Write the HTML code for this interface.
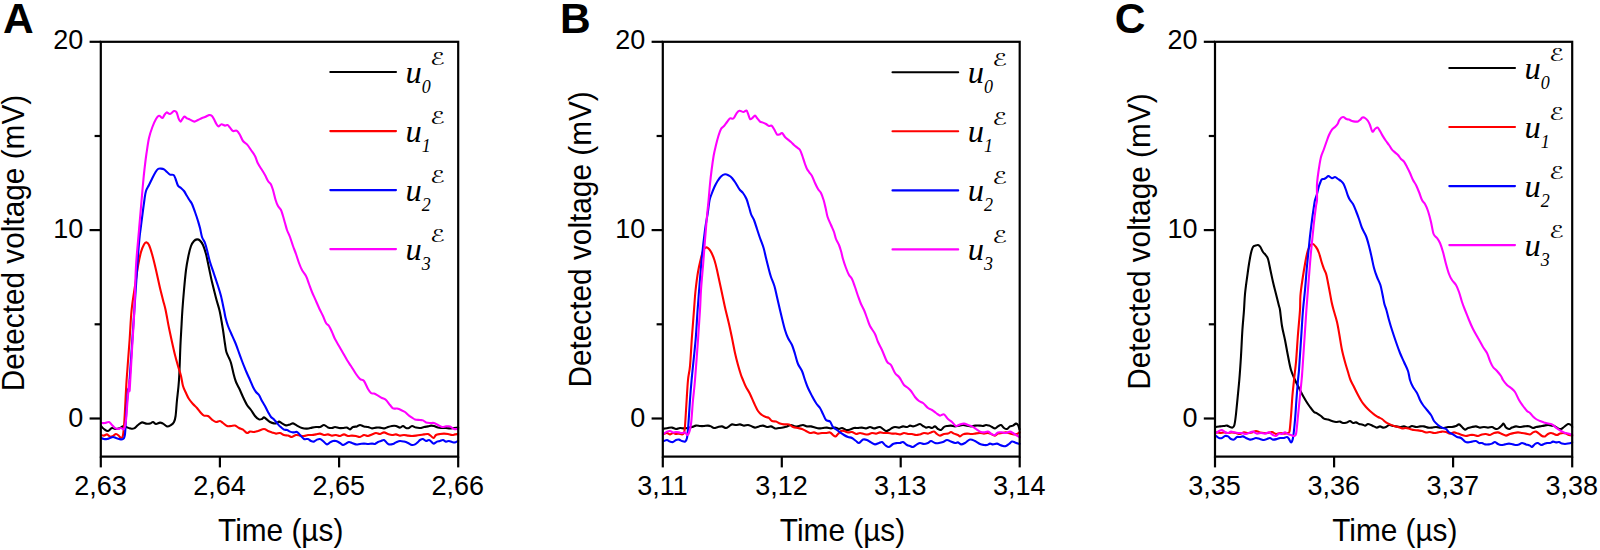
<!DOCTYPE html>
<html lang="en">
<head>
<meta charset="utf-8">
<title>Detected voltage vs time</title>
<style>
html,body{margin:0;padding:0;background:#fff;}
body{width:1600px;height:550px;overflow:hidden;}
svg{display:block;}
text{font-family:"Liberation Sans",sans-serif;fill:#000;}
.tick{font-size:27px;}
.title{font-size:29.8px;}
.letter{font-size:42.5px;font-weight:bold;}
.leg{font-family:"Liberation Serif",serif;font-style:italic;font-size:32.5px;}
.sub{font-family:"Liberation Serif",serif;font-style:italic;font-size:18px;}
.sup{font-family:"DejaVu Sans",sans-serif;font-style:italic;font-size:17.5px;}
.ax{stroke:#000;stroke-width:2.2;fill:none;stroke-linecap:butt;}
.cv{fill:none;stroke-width:2.1;stroke-linejoin:round;stroke-linecap:round;}
</style>
</head>
<body>
<svg width="1600" height="550" viewBox="0 0 1600 550">
<rect x="0" y="0" width="1600" height="550" fill="#ffffff"/>
<g id="panel-A">
<clipPath id="clipA"><rect x="100.8" y="41.8" width="358.6" height="414.8"/></clipPath>
<g clip-path="url(#clipA)">
<path class="cv" stroke="#000000" d="M100.8,426C100.8,426 100.5,425.5 101,426C101.5,426.5 102.8,428.2 104,429C105.2,429.8 106.7,431.2 108,431C109.3,430.8 110.7,428.3 112,428C113.3,427.7 114.7,429 116,429C117.3,429 118.8,428.4 120,428C121.2,427.6 122,426.6 123,426.4C124,426.2 124.8,426.7 126,427C127.2,427.3 128.7,428.2 130,428.4C131.3,428.6 132.7,429 134,428.4C135.3,427.8 136.7,426 138,425C139.3,424 140.7,422.6 142,422.4C143.3,422.2 144.7,423.4 146,423.6C147.3,423.8 148.8,423.9 150,423.6C151.2,423.3 152,421.9 153,422C154,422.1 154.8,423.9 156,424C157.2,424.1 158.8,422.7 160,422.6C161.2,422.5 161.8,423 163,423.6C164.2,424.2 165.7,426.2 167,426.4C168.3,426.6 169.8,425.7 171,425C172.2,424.3 173.2,423.5 174,422C174.8,420.5 175.1,419.7 175.6,416C176.1,412.3 176.4,406 177,400C177.6,394 178.4,389 179,380C179.6,371 180,355.3 180.4,346C180.8,336.7 181.3,330 181.6,324C181.9,318 182,315.7 182.4,310C182.8,304.3 183.4,296.7 184,290C184.6,283.3 185.3,275.7 186,270C186.7,264.3 187.6,260 188.4,256C189.2,252 190.1,248.5 191,246C191.9,243.5 193,242.1 194,241C195,239.9 196,239.5 197,239.4C198,239.3 199,239.7 200,240.6C201,241.5 202,242.8 203,245C204,247.2 205,250.2 206,254C207,257.8 208,263.3 209,268C210,272.7 210.8,277 212,282C213.2,287 214.8,293.3 216,298C217.2,302.7 218.6,306.7 219.4,310C220.2,313.3 220.4,314.7 221,318C221.6,321.3 222.3,325.7 223,330C223.7,334.3 224.4,340.3 225,344C225.6,347.7 225.7,349.7 226.4,352C227.1,354.3 228.2,356.2 229,358C229.8,359.8 230.2,360.3 231,363C231.8,365.7 232.8,370.8 233.6,374C234.4,377.2 235.1,379.7 236,382C236.9,384.3 237.8,385.5 239,388C240.2,390.5 241.7,394.2 243,397C244.3,399.8 245.7,402.8 247,405C248.3,407.2 249.7,408.2 251,410C252.3,411.8 253.7,414.4 255,416C256.3,417.6 257.8,418.9 259,419.4C260.2,419.9 261.2,419.3 262,419C262.8,418.7 263.2,417.3 264,417.4C264.8,417.5 266,418.8 267,419.6C268,420.4 268.8,421.4 270,422C271.2,422.6 272.8,423.2 274,423.4C275.2,423.6 276.2,423.3 277,423C277.8,422.7 278.2,421.5 279,421.6C279.8,421.7 280.8,422.8 282,423.4C283.2,424 284.7,425.2 286,425.4C287.3,425.6 288.8,424.7 290,424.4C291.2,424.1 291.8,423.2 293,423.4C294.2,423.6 295.5,424.8 297,425.6C298.5,426.4 300.3,427.5 302,428C303.7,428.5 305.3,428.7 307,428.6C308.7,428.5 310.5,427.9 312,427.6C313.5,427.3 314.7,427.1 316,427C317.3,426.9 318.7,427.3 320,427C321.3,426.7 322.7,424.9 324,425C325.3,425.1 326.7,426.9 328,427.4C329.3,427.9 330.8,428.1 332,428C333.2,427.9 333.8,427 335,427C336.2,427 337.7,427.8 339,428C340.3,428.2 341.7,428.1 343,428C344.3,427.9 345.8,427.4 347,427.6C348.2,427.8 349,429.5 350,429.4C351,429.3 351.8,427.5 353,427C354.2,426.5 355.8,426.7 357,426.4C358.2,426.1 358.8,425 360,425C361.2,425 362.7,426.1 364,426.4C365.3,426.7 366.7,426.7 368,427C369.3,427.3 370.7,428.3 372,428.4C373.3,428.5 374.7,427.7 376,427.6C377.3,427.5 378.7,427.5 380,427.6C381.3,427.7 382.7,428.5 384,428.4C385.3,428.3 386.7,427.4 388,427C389.3,426.6 390.7,426.2 392,426C393.3,425.8 394.7,425.7 396,426C397.3,426.3 398.8,427.6 400,427.6C401.2,427.6 402,425.9 403,426C404,426.1 405,427.7 406,428C407,428.3 408,428.3 409,428C410,427.7 410.8,426.1 412,426C413.2,425.9 414.7,427.3 416,427.6C417.3,427.9 418.7,428.1 420,428C421.3,427.9 422.7,427.3 424,427C425.3,426.7 426.8,426.6 428,426.4C429.2,426.2 430,425.7 431,425.6C432,425.5 432.8,425.7 434,426C435.2,426.3 436.7,427.3 438,427.6C439.3,427.9 440.7,427.9 442,428C443.3,428.1 444.7,427.9 446,428C447.3,428.1 448.7,428.4 450,428.4C451.3,428.4 452.7,428.1 454,428C455.3,427.9 457.3,427.7 458,427.6C458.7,427.5 458.2,427.6 458.2,427.6"/>
<path class="cv" stroke="#ff0000" d="M100.8,435C100.8,435 100.5,434.9 101,435C101.5,435.1 103,435.7 104,435.6C105,435.5 106,434.2 107,434.4C108,434.6 109,436.3 110,436.6C111,436.9 112,436.4 113,436C114,435.6 115,434 116,434C117,434 118.2,435.3 119,436C119.8,436.7 120.4,438 121,438C121.6,438 122.3,438 122.8,436C123.3,434 123.6,431 124,426C124.4,421 124.8,413.7 125.2,406C125.6,398.3 125.9,391 126.6,380C127.3,369 128.8,351.7 129.6,340C130.4,328.3 130.7,319 131.6,310C132.5,301 133.9,293.3 135,286C136.1,278.7 137,271.7 138,266C139,260.3 140,255.6 141,252C142,248.4 143.1,246 144,244.4C144.9,242.8 145.6,242.3 146.4,242.4C147.2,242.5 148.1,243.1 149,245C149.9,246.9 150.8,249.8 152,254C153.2,258.2 154.7,264.3 156,270C157.3,275.7 158.8,283 160,288C161.2,293 162.1,296.3 163,300C163.9,303.7 164.6,305.3 165.6,310C166.6,314.7 167.9,322.7 169,328C170.1,333.3 171,337.5 172,342C173,346.5 174,351 175,355C176,359 177,362.5 178,366C179,369.5 180.2,372.7 181,376C181.8,379.3 182.2,383.2 183,386C183.8,388.8 185,390.8 186,393C187,395.2 187.8,397.2 189,399C190.2,400.8 191.7,402.5 193,404C194.3,405.5 195.7,406.5 197,408C198.3,409.5 199.8,411.7 201,413C202.2,414.3 202.8,415.1 204,415.6C205.2,416.1 206.7,415.3 208,416C209.3,416.7 210.7,418.6 212,419.6C213.3,420.6 214.7,421.8 216,422C217.3,422.2 218.8,420.8 220,421C221.2,421.2 221.8,422.2 223,423C224.2,423.8 225.7,425.5 227,426C228.3,426.5 229.7,426.1 231,426C232.3,425.9 233.7,425.3 235,425.6C236.3,425.9 237.7,427.3 239,428C240.3,428.7 241.7,428.8 243,429.6C244.3,430.4 245.8,432.7 247,433C248.2,433.3 248.8,431.8 250,431.6C251.2,431.4 252.7,432.1 254,432C255.3,431.9 256.3,431.5 258,431C259.7,430.5 262.3,429 264,429C265.7,429 266.7,430.4 268,431C269.3,431.6 270.7,432 272,432.4C273.3,432.8 274.7,433.5 276,433.6C277.3,433.7 278.7,432.8 280,433C281.3,433.2 282.7,434.6 284,435C285.3,435.4 286.7,435.3 288,435.6C289.3,435.9 290.7,437.1 292,437C293.3,436.9 294.7,435.2 296,435C297.3,434.8 298.7,435.4 300,435.6C301.3,435.8 302.7,436.1 304,436C305.3,435.9 306.7,435.2 308,435C309.3,434.8 310.7,435.1 312,435C313.3,434.9 314.7,434.6 316,434.4C317.3,434.2 318.7,433.5 320,433.6C321.3,433.7 322.7,434.9 324,435C325.3,435.1 326.7,434.3 328,434.4C329.3,434.5 330.7,435.5 332,435.6C333.3,435.7 334.7,434.9 336,435C337.3,435.1 338.7,436.1 340,436C341.3,435.9 342.7,434.4 344,434.4C345.3,434.4 346.7,435.8 348,436C349.3,436.2 350.7,435.6 352,435.6C353.3,435.6 354.7,435.8 356,436C357.3,436.2 358.7,437.2 360,437C361.3,436.8 362.7,435.2 364,435C365.3,434.8 366.7,436.1 368,436C369.3,435.9 370.7,434.9 372,434.4C373.3,433.9 374.7,433.1 376,433C377.3,432.9 378.7,434.1 380,434C381.3,433.9 382.7,432.4 384,432.4C385.3,432.4 386.7,433.6 388,434C389.3,434.4 390.7,434.9 392,435C393.3,435.1 394.7,434.3 396,434.4C397.3,434.5 398.7,435.5 400,435.6C401.3,435.7 402.7,435 404,435C405.3,435 406.7,435.4 408,435.6C409.3,435.8 410.7,436 412,436C413.3,436 414.7,435.8 416,435.6C417.3,435.4 418.7,435.2 420,435C421.3,434.8 422.7,434.6 424,434.4C425.3,434.2 426.8,433.7 428,434C429.2,434.3 430.1,435.3 431,436C431.9,436.7 432.8,438.2 433.6,438C434.4,437.8 434.9,435.7 436,435C437.1,434.3 438.7,434.2 440,434C441.3,433.8 442.7,433.6 444,433.6C445.3,433.6 446.7,433.8 448,434C449.3,434.2 450.8,434.9 452,435C453.2,435.1 454,434.6 455,434.4C456,434.2 457.5,434.1 458,434C458.5,433.9 458.2,434 458.2,434"/>
<path class="cv" stroke="#0000ff" d="M100.8,438C100.8,438 100.5,437.8 101,438C101.5,438.2 103,438.8 104,439C105,439.2 106,439.2 107,439C108,438.8 109,438.3 110,438C111,437.7 112,437 113,437C114,437 115,437.7 116,438C117,438.3 117.8,438.8 119,439C120.2,439.2 122,439.8 123,439C124,438.2 124.4,438.8 125,434C125.6,429.2 125.9,417.3 126.4,410C126.9,402.7 127.5,395 128,390C128.5,385 127.9,402.3 129.6,380C131.3,357.7 136.1,281.7 138,256C139.9,230.3 139.9,235.3 141,226C142.1,216.7 143.6,205.8 144.4,200C145.2,194.2 145.2,193.5 146,191C146.8,188.5 147.9,187.2 149,185C150.1,182.8 151.3,180.2 152.4,178C153.5,175.8 154.7,173.5 155.6,172C156.5,170.5 157.1,169.6 158,169C158.9,168.4 160,168.5 161,168.6C162,168.7 163,168.8 164,169.4C165,170 166,171.1 167,172C168,172.9 168.9,174.1 170,174.6C171.1,175.1 172.7,174.3 173.6,175C174.5,175.7 174.9,177.2 175.6,179C176.3,180.8 177.1,184.1 178,185.6C178.9,187.1 180,187.1 181,188C182,188.9 183,189.7 184,191C185,192.3 186.1,194.5 187,196C187.9,197.5 188.6,198.7 189.4,200C190.2,201.3 191.1,202 192,204C192.9,206 194,209.2 195,212C196,214.8 197.2,218.3 198,221C198.8,223.7 199.3,225.3 200,228C200.7,230.7 201.2,234.5 202,237C202.8,239.5 204.2,240.8 205,243C205.8,245.2 206.2,246.8 207,250C207.8,253.2 208.8,258 210,262C211.2,266 212.7,270 214,274C215.3,278 216.8,282.3 218,286C219.2,289.7 220,292 221,296C222,300 223.2,306.3 224,310C224.8,313.7 224.9,315.3 225.6,318C226.3,320.7 227.1,323.5 228,326C228.9,328.5 229.8,330.3 231,333C232.2,335.7 233.8,339.2 235,342C236.2,344.8 236.8,346.8 238,350C239.2,353.2 240.7,357.5 242,361C243.3,364.5 244.7,367.8 246,371C247.3,374.2 248.8,377.3 250,380C251.2,382.7 252,385 253,387C254,389 255,390.7 256,392C257,393.3 258,393.5 259,395C260,396.5 261,399.2 262,401C263,402.8 264,404.2 265,406C266,407.8 267,410.2 268,412C269,413.8 270,415.8 271,417C272,418.2 273,418.4 274,419.4C275,420.4 276,421.8 277,423C278,424.2 278.8,425.3 280,426.4C281.2,427.5 282.8,429 284,429.6C285.2,430.2 286,429.7 287,430C288,430.3 289,431.2 290,431.6C291,432 291.8,432.3 293,432.4C294.2,432.5 295.8,431.6 297,432C298.2,432.4 298.8,433.8 300,435C301.2,436.2 302.7,438.3 304,439C305.3,439.7 306.8,438.7 308,439C309.2,439.3 310,440.6 311,441C312,441.4 313,441.8 314,441.6C315,441.4 316,440 317,439.6C318,439.2 319,438.8 320,439C321,439.2 321.8,440.1 323,441C324.2,441.9 325.8,444.2 327,444.4C328.2,444.6 329,443 330,442.4C331,441.8 332,441.2 333,441C334,440.8 334.8,440.7 336,441C337.2,441.3 338.8,442.3 340,443C341.2,443.7 342,444.9 343,445C344,445.1 345,444.1 346,443.6C347,443.1 348,442.1 349,442C350,441.9 350.8,442.6 352,443C353.2,443.4 354.7,444.2 356,444.4C357.3,444.6 358.7,444.1 360,444C361.3,443.9 362.7,443.6 364,443.6C365.3,443.6 366.7,444 368,444C369.3,444 370.8,443.6 372,443.6C373.2,443.6 374,444.3 375,444C376,443.7 377,442.5 378,442C379,441.5 380,441.3 381,441C382,440.7 383,439.7 384,440C385,440.3 386.2,442.3 387,443C387.8,443.7 388,444.2 389,444.4C390,444.6 391.8,444.3 393,444C394.2,443.7 394.8,442.9 396,442.4C397.2,441.9 398.7,441.1 400,441C401.3,440.9 402.7,441.3 404,441.6C405.3,441.9 406.7,442.4 408,443C409.3,443.6 410.8,444.8 412,445C413.2,445.2 414,444.9 415,444.4C416,443.9 417.2,442.7 418,442C418.8,441.3 419.2,440.5 420,440C420.8,439.5 422,438.8 423,439C424,439.2 425,440.8 426,441C427,441.2 428,439.8 429,440C430,440.2 431.2,441.8 432,442.4C432.8,443 433.2,443.7 434,443.6C434.8,443.5 436,442 437,441.6C438,441.2 439,441.3 440,441C441,440.7 442,439.9 443,440C444,440.1 445,441.4 446,441.6C447,441.8 448,440.9 449,441C450,441.1 451,441.8 452,442C453,442.2 454,442.6 455,442.4C456,442.2 457.5,441.2 458,441C458.5,440.8 458.2,441 458.2,441"/>
<path class="cv" stroke="#ff00ff" d="M100.8,423C100.8,423 100.3,423 101,423C101.7,423 103.7,423.2 105,423C106.3,422.8 107.8,421.7 109,422C110.2,422.3 111,424 112,425C113,426 114,427.3 115,428C116,428.7 117,429 118,429C119,429 120,428 121,428C122,428 123.2,430.3 124,429C124.8,427.7 125.4,424.8 126,420C126.6,415.2 127,406.7 127.6,400C128.2,393.3 129.3,381.7 129.6,380C129.9,378.3 129.2,395 129.7,390C130.1,385 131.2,363.3 132,350C132.8,336.7 133.7,324 134.4,310C135.1,296 135.2,279.3 136,266C136.8,252.7 138.1,241 139,230C139.9,219 140.9,207.7 141.6,200C142.3,192.3 142.5,189 143,184C143.5,179 143.8,175 144.4,170C145,165 145.6,159.3 146.4,154C147.2,148.7 148,142.5 149,138C150,133.5 151.2,130.2 152.4,127C153.6,123.8 154.9,120.9 156,119C157.1,117.1 157.9,116 159,115.8C160.1,115.6 161.5,118.1 162.4,118C163.3,117.9 163.7,115.9 164.4,115C165.1,114.1 165.7,112.6 166.6,112.4C167.5,112.2 168.8,114.2 170,114C171.2,113.8 172.9,111.4 174,111.1C175.1,110.8 175.9,111.2 176.6,112.4C177.3,113.6 177.8,116.5 178.4,118C179,119.5 179.7,121.4 180.4,121.6C181.1,121.8 181.7,119.8 182.4,119C183.1,118.2 183.6,116.7 184.4,116.6C185.2,116.5 186.1,117.9 187,118.4C187.9,118.9 188.8,119.1 190,119.6C191.2,120.1 193.1,121.5 194.4,121.6C195.7,121.7 196.7,120.6 198,120C199.3,119.4 200.8,118.5 202,118C203.2,117.5 203.8,117.5 205,117C206.2,116.5 207.8,115.3 209,115.1C210.2,114.9 211.1,115.2 212,116C212.9,116.8 213.7,118.7 214.4,120C215.1,121.3 215.7,122.9 216.4,124C217.1,125.1 217.6,126.4 218.4,126.4C219.2,126.5 220.4,124.4 221.5,124.3C222.6,124.2 224,125.5 225,125.6C226,125.7 226.8,124.7 227.6,125C228.4,125.3 229.1,126.6 230,127.6C230.9,128.6 231.8,130.5 233,131C234.2,131.5 235.8,130.1 237,130.8C238.2,131.5 239,133.3 240,135C241,136.7 241.8,139.4 243,141C244.2,142.6 245.7,142.9 247,144.4C248.3,145.9 249.7,148.1 251,150C252.3,151.9 253.8,153.7 255,156C256.2,158.3 256.8,161.3 258,163.6C259.2,165.9 260.8,168.1 262,170C263.2,171.9 264,173.2 265,175C266,176.8 267,179.4 268,181C269,182.6 270.2,182.9 271,184.4C271.8,185.9 272.2,187.4 273,190C273.8,192.6 274.8,197.3 275.6,200C276.4,202.7 277.1,204.3 278,206C278.9,207.7 280.2,208.3 281,210C281.8,211.7 282.3,213.8 283,216C283.7,218.2 284.3,220.7 285,223C285.7,225.3 286.2,227.7 287,230C287.8,232.3 289,234.3 290,237C291,239.7 292,243.2 293,246C294,248.8 295,251.2 296,254C297,256.8 298,260.3 299,263C300,265.7 300.8,267.8 302,270C303.2,272.2 304.8,273.7 306,276C307.2,278.3 308,281.3 309,284C310,286.7 310.8,289.2 312,292C313.2,294.8 314.7,298 316,301C317.3,304 318.8,307.5 320,310C321.2,312.5 322,313.8 323,316C324,318.2 325,321.3 326,323C327,324.7 328,324.5 329,326C330,327.5 331,329.8 332,332C333,334.2 333.8,336.7 335,339C336.2,341.3 337.7,343.7 339,346C340.3,348.3 341.7,350.7 343,353C344.3,355.3 345.7,357.8 347,360C348.3,362.2 349.5,363.7 351,366C352.5,368.3 354.5,371.8 356,374C357.5,376.2 358.7,377.8 360,379C361.3,380.2 362.7,379.3 364,381C365.3,382.7 366.8,387 368,389C369.2,391 370,392.2 371,393C372,393.8 372.8,393.2 374,393.6C375.2,394 376.7,394.9 378,395.6C379.3,396.3 380.7,397.3 382,398C383.3,398.7 384.7,398.8 386,400C387.3,401.2 388.8,403.6 390,405C391.2,406.4 391.8,407.8 393,408.4C394.2,409 395.7,408.3 397,408.6C398.3,408.9 399.7,409.4 401,410C402.3,410.6 403.7,411.1 405,412C406.3,412.9 407.8,414.7 409,415.6C410.2,416.5 411,417 412,417.6C413,418.2 413.7,419 415,419.4C416.3,419.8 418.7,419.8 420,420C421.3,420.2 422,420 423,420.4C424,420.8 424.8,422 426,422.4C427.2,422.8 428.7,422.9 430,423C431.3,423.1 432.7,422.7 434,423C435.3,423.3 436.7,424.3 438,425C439.3,425.7 440.7,426.8 442,427C443.3,427.2 444.7,426.5 446,426.4C447.3,426.3 448.7,426 450,426.4C451.3,426.8 452.7,428.6 454,429C455.3,429.4 457.3,429 458,429C458.7,429 458.2,429 458.2,429"/>
</g>
<rect class="ax" x="100.8" y="41.8" width="357.4" height="414.8"/>
<line class="ax" x1="89.6" y1="41.8" x2="100.8" y2="41.8"/>
<text class="tick" text-anchor="end" transform="translate(83.2,49.4) scale(1,1.04)">20</text>
<line class="ax" x1="89.6" y1="230.1" x2="100.8" y2="230.1"/>
<text class="tick" text-anchor="end" transform="translate(83.2,238.3) scale(1,1.04)">10</text>
<line class="ax" x1="89.6" y1="418.5" x2="100.8" y2="418.5"/>
<text class="tick" text-anchor="end" transform="translate(83.2,427) scale(1,1.04)">0</text>
<line class="ax" x1="94.6" y1="136" x2="100.8" y2="136"/>
<line class="ax" x1="94.6" y1="324.3" x2="100.8" y2="324.3"/>
<line class="ax" x1="100.8" y1="456.6" x2="100.8" y2="467.4"/>
<text class="tick" text-anchor="middle" transform="translate(100.4,495.2) scale(1,1.04)">2,63</text>
<line class="ax" x1="219.9" y1="456.6" x2="219.9" y2="467.4"/>
<text class="tick" text-anchor="middle" transform="translate(219.5,495.2) scale(1,1.04)">2,64</text>
<line class="ax" x1="339.1" y1="456.6" x2="339.1" y2="467.4"/>
<text class="tick" text-anchor="middle" transform="translate(338.7,495.2) scale(1,1.04)">2,65</text>
<line class="ax" x1="458.2" y1="456.6" x2="458.2" y2="467.4"/>
<text class="tick" text-anchor="middle" transform="translate(457.8,495.2) scale(1,1.04)">2,66</text>
<text class="title" text-anchor="middle" transform="translate(280.7,541.3) scale(1,1.04)">Time (µs)</text>
<text class="title" text-anchor="middle" transform="translate(24.4,243) rotate(-90) scale(1,1.04)">Detected voltage (mV)</text>
<text class="letter" transform="translate(2.9,32.8) scale(1,1.0)">A</text>
<line x1="330.3" y1="72" x2="396" y2="72" stroke="#000000" stroke-width="2.1" stroke-linecap="round"/>
<text class="leg" x="405.6" y="82.9">u</text><text class="sub" x="421.7" y="92.8">0</text><text class="sup" transform="translate(430,65.2) scale(1.4,1)">ℰ</text>
<line x1="330.3" y1="131.1" x2="396" y2="131.1" stroke="#ff0000" stroke-width="2.1" stroke-linecap="round"/>
<text class="leg" x="405.6" y="142">u</text><text class="sub" x="421.7" y="151.9">1</text><text class="sup" transform="translate(430,124.3) scale(1.4,1)">ℰ</text>
<line x1="330.3" y1="190.1" x2="396" y2="190.1" stroke="#0000ff" stroke-width="2.1" stroke-linecap="round"/>
<text class="leg" x="405.6" y="201">u</text><text class="sub" x="421.7" y="210.9">2</text><text class="sup" transform="translate(430,183.3) scale(1.4,1)">ℰ</text>
<line x1="330.3" y1="249.1" x2="396" y2="249.1" stroke="#ff00ff" stroke-width="2.1" stroke-linecap="round"/>
<text class="leg" x="405.6" y="260">u</text><text class="sub" x="421.7" y="269.9">3</text><text class="sup" transform="translate(430,242.3) scale(1.4,1)">ℰ</text>
</g>
<g id="panel-B">
<clipPath id="clipB"><rect x="662.8" y="41.8" width="358.1" height="414.8"/></clipPath>
<g clip-path="url(#clipB)">
<path class="cv" stroke="#000000" d="M662.8,428.6C663,428.6 663.1,428.7 664,428.6C664.9,428.5 666.7,428.2 668,428C669.3,427.8 670.7,427.4 672,427.6C673.3,427.8 674.7,428.9 676,429C677.3,429.1 678.7,428.1 680,428C681.3,427.9 682.7,428.4 684,428.4C685.3,428.4 686.7,428.2 688,428C689.3,427.8 690.7,427.4 692,427C693.3,426.6 694.7,425.8 696,425.6C697.3,425.4 698.7,425.9 700,426C701.3,426.1 702.7,426.1 704,426C705.3,425.9 706.8,425.5 708,425.6C709.2,425.7 710,426 711,426.4C712,426.8 712.8,427.9 714,428C715.2,428.1 716.7,427.3 718,427C719.3,426.7 720.7,426.2 722,426.4C723.3,426.6 724.8,428 726,428C727.2,428 728,427 729,426.4C730,425.8 730.8,424.6 732,424.4C733.2,424.2 734.7,425 736,425C737.3,425 738.7,424.3 740,424.4C741.3,424.5 742.7,425.5 744,425.6C745.3,425.7 746.7,424.9 748,425C749.3,425.1 750.8,426 752,426.4C753.2,426.8 753.8,427.6 755,427.6C756.2,427.6 757.7,426.7 759,426.4C760.3,426.1 761.7,425.5 763,425.6C764.3,425.7 765.7,426.9 767,427C768.3,427.1 769.7,426.2 771,426.4C772.3,426.6 773.7,428.1 775,428.4C776.3,428.7 777.7,428.1 779,428C780.3,427.9 781.7,427.9 783,427.6C784.3,427.3 785.7,426.8 787,426.4C788.3,426 789.7,425 791,425C792.3,425 793.7,426.2 795,426.4C796.3,426.6 797.7,426.2 799,426C800.3,425.8 801.7,424.9 803,425C804.3,425.1 805.7,426.2 807,426.4C808.3,426.6 809.7,426.2 811,426.4C812.3,426.6 813.7,427.3 815,427.6C816.3,427.9 817.7,428.3 819,428.4C820.3,428.5 821.7,428.1 823,428C824.3,427.9 825.7,427.5 827,427.6C828.3,427.7 829.7,428.4 831,428.4C832.3,428.4 833.7,427.5 835,427.6C836.3,427.7 837.8,428.9 839,429C840.2,429.1 840.8,427.8 842,428C843.2,428.2 844.7,429.7 846,430C847.3,430.3 848.7,429.9 850,429.6C851.3,429.3 852.7,428.3 854,428C855.3,427.7 856.7,428.1 858,428C859.3,427.9 860.7,427.5 862,427.6C863.3,427.7 864.7,428.5 866,428.4C867.3,428.3 868.7,427 870,427C871.3,427 872.8,428.3 874,428.4C875.2,428.5 876,427.8 877,427.6C878,427.4 879,426.8 880,427C881,427.2 882,428.3 883,429C884,429.7 885,430.8 886,431C887,431.2 888,430.5 889,430C890,429.5 891,428.5 892,428C893,427.5 893.8,427.1 895,427C896.2,426.9 897.7,427.7 899,427.6C900.3,427.5 901.7,426.5 903,426.4C904.3,426.3 905.8,427.1 907,427C908.2,426.9 909,425.7 910,425.6C911,425.5 912,426.4 913,426.4C914,426.4 914.8,426 916,425.6C917.2,425.2 918.8,423.9 920,424C921.2,424.1 922,425.4 923,426C924,426.6 925,427.4 926,427.6C927,427.8 928,426.9 929,427C930,427.1 931,428.1 932,428C933,427.9 934,426.2 935,426.4C936,426.6 937,428.4 938,429C939,429.6 940,430.3 941,430C942,429.7 943,427.7 944,427C945,426.3 945.8,426.2 947,426C948.2,425.8 949.7,425.5 951,425.6C952.3,425.7 953.7,426.4 955,426.4C956.3,426.4 957.7,425.8 959,425.6C960.3,425.4 961.7,425 963,425C964.3,425 965.7,425.4 967,425.6C968.3,425.8 969.7,426.4 971,426.4C972.3,426.4 973.5,425.7 975,425.6C976.5,425.5 978.7,425.5 980,425.6C981.3,425.7 982,426.1 983,426C984,425.9 985,425.1 986,425C987,424.9 988,425.3 989,425.6C990,425.9 991,426.5 992,427C993,427.5 994,428.5 995,428.4C996,428.3 997,427 998,426.4C999,425.8 1000,424.7 1001,425C1002,425.3 1003,427.3 1004,428C1005,428.7 1006,429.3 1007,429C1008,428.7 1009,427 1010,426.4C1011,425.8 1012,426.1 1013,425.6C1014,425.1 1015.2,423.7 1016,423.6C1016.8,423.5 1017.4,424.1 1018,425C1018.6,425.9 1019.1,428.3 1019.4,429C1019.7,429.7 1019.7,429 1019.7,429"/>
<path class="cv" stroke="#ff0000" d="M662.8,434C663,434 663.3,434.2 664,434C664.7,433.8 666,432.9 667,433C668,433.1 669,434.4 670,434.4C671,434.4 672,433.1 673,433C674,432.9 675,433.9 676,434C677,434.1 678,433.5 679,433.6C680,433.7 681.2,434.5 682,434.4C682.8,434.3 683.5,434.4 684,433C684.5,431.6 684.6,430.8 685,426C685.4,421.2 685.9,411.7 686.4,404C686.9,396.3 687.4,386.3 688,380C688.6,373.7 689.3,373.3 690,366C690.7,358.7 691.3,345.3 692,336C692.7,326.7 693.4,317.7 694,310C694.6,302.3 694.9,296.3 695.6,290C696.3,283.7 697.1,277.3 698,272C698.9,266.7 700.1,261.7 701,258C701.9,254.3 702.7,251.4 703.6,249.6C704.5,247.8 705.5,247.5 706.4,247.4C707.3,247.3 708.1,248.1 709,249C709.9,249.9 710.7,251.2 711.6,253C712.5,254.8 713.5,257.2 714.4,260C715.3,262.8 716.1,266 717,270C717.9,274 719,279.3 720,284C721,288.7 722.1,293.7 723,298C723.9,302.3 724.6,305.7 725.6,310C726.6,314.3 727.9,319.3 729,324C730.1,328.7 731,333.2 732,338C733,342.8 734,348.5 735,353C736,357.5 737,361.3 738,365C739,368.7 740.2,372.5 741,375C741.8,377.5 742.2,378 743,380C743.8,382 744.8,384.7 746,387C747.2,389.3 748.7,391.3 750,394C751.3,396.7 752.7,400.2 754,403C755.3,405.8 756.7,409 758,411C759.3,413 760.7,414 762,415C763.3,416 764.8,416.5 766,417C767.2,417.5 768,417.3 769,418C770,418.7 770.8,420.4 772,421C773.2,421.6 774.7,421.2 776,421.6C777.3,422 778.7,423.1 780,423.6C781.3,424.1 782.5,424.3 784,424.4C785.5,424.5 787.5,424 789,424.4C790.5,424.8 791.5,426.4 793,427C794.5,427.6 796.5,427.7 798,428C799.5,428.3 800.7,428.5 802,429C803.3,429.5 804.7,430.3 806,431C807.3,431.7 808.7,432.8 810,433C811.3,433.2 812.7,432.3 814,432.4C815.3,432.5 816.7,433.5 818,433.6C819.3,433.7 820.7,433.1 822,433C823.3,432.9 824.7,433.1 826,433C827.3,432.9 828.8,432.1 830,432.4C831.2,432.7 832.1,434.3 833,435C833.9,435.7 834.8,436.6 835.6,436.4C836.4,436.2 837.1,434.9 838,434C838.9,433.1 840,431.5 841,431C842,430.5 842.8,430.8 844,431C845.2,431.2 846.7,432.2 848,432.4C849.3,432.6 850.7,431.7 852,432C853.3,432.3 854.7,433.8 856,434C857.3,434.2 858.7,433 860,433C861.3,433 862.7,433.8 864,434C865.3,434.2 866.7,434.6 868,434.4C869.3,434.2 870.7,433.1 872,433C873.3,432.9 874.7,433.7 876,433.6C877.3,433.5 878.7,432.5 880,432.4C881.3,432.3 882.7,432.9 884,433C885.3,433.1 886.7,432.9 888,433C889.3,433.1 890.7,433.5 892,433.6C893.3,433.7 894.7,433.5 896,433.6C897.3,433.7 898.7,434.5 900,434.4C901.3,434.3 902.7,433.1 904,433C905.3,432.9 906.7,433.8 908,434C909.3,434.2 910.7,433.8 912,434C913.3,434.2 914.7,434.9 916,435C917.3,435.1 918.7,434.7 920,434.4C921.3,434.1 922.7,433.1 924,433C925.3,432.9 926.8,433.7 928,433.6C929.2,433.5 930,432.7 931,432.4C932,432.1 933,431.3 934,431.6C935,431.9 936,433.3 937,434C938,434.7 938.8,435.6 940,435.6C941.2,435.6 942.7,434.3 944,434C945.3,433.7 946.8,433.9 948,433.6C949.2,433.3 950,432 951,432C952,432 952.8,433.1 954,433.6C955.2,434.1 957,434.5 958,435C959,435.5 959.2,436.5 960,436.4C960.8,436.3 961.8,434.9 963,434.4C964.2,433.9 965.7,433.7 967,433.6C968.3,433.5 969.7,434 971,434C972.3,434 973.5,433.8 975,433.6C976.5,433.4 978.5,433 980,433C981.5,433 982.7,433.6 984,433.6C985.3,433.6 986.7,432.9 988,433C989.3,433.1 990.8,434 992,434.4C993.2,434.8 994,435.7 995,435.6C996,435.5 996.8,434 998,433.6C999.2,433.2 1000.7,433.2 1002,433C1003.3,432.8 1004.7,432.3 1006,432.4C1007.3,432.5 1008.7,433.3 1010,433.6C1011.3,433.9 1012.8,434.3 1014,434.4C1015.2,434.5 1016.1,434.3 1017,434C1017.9,433.7 1018.9,432.7 1019.4,432.4C1019.9,432.1 1019.7,432.4 1019.7,432.4"/>
<path class="cv" stroke="#0000ff" d="M662.8,441C663,441 663.3,441.2 664,441C664.7,440.8 666,439.9 667,440C668,440.1 669,441.3 670,441.6C671,441.9 672,442.3 673,442C674,441.7 675,440.4 676,440C677,439.6 678,439.4 679,439.6C680,439.8 681,440.7 682,441C683,441.3 684.2,442.1 685,441.6C685.8,441.1 686.4,440.9 687,438C687.6,435.1 687.9,430.3 688.4,424C688.9,417.7 689.5,407.3 690,400C690.5,392.7 690.7,390 691.6,380C692.5,370 694.6,351.7 695.6,340C696.6,328.3 696.9,319.3 697.6,310C698.3,300.7 698.9,293 699.6,284C700.3,275 701.1,265 702,256C702.9,247 704.1,237 705,230C705.9,223 706.8,219 707.6,214C708.4,209 708.9,203.3 709.6,200C710.3,196.7 710.8,196.2 711.6,194C712.4,191.8 713.4,189.2 714.4,187C715.4,184.8 716.5,182.8 717.6,181C718.7,179.2 719.8,177.5 721,176.4C722.2,175.3 723.7,174.4 725,174.3C726.3,174.2 727.8,175 729,175.6C730.2,176.2 731,176.9 732,178C733,179.1 734,180.5 735,182C736,183.5 737.2,185.7 738,187C738.8,188.3 739.2,189 740,190C740.8,191 741.9,191.5 743,193C744.1,194.5 745.5,196.7 746.5,199C747.5,201.3 748.2,204.5 749,207C749.8,209.5 750.2,211.8 751,214C751.8,216.2 753,217.5 754,220C755,222.5 756,226 757,229C758,232 758.9,234.8 760,238C761.1,241.2 762.6,244.7 763.6,248C764.6,251.3 765.1,254.3 766,258C766.9,261.7 768.2,266.8 769,270C769.8,273.2 770.1,274.3 771,277C771.9,279.7 773.4,282.7 774.4,286C775.4,289.3 776.1,293 777,297C777.9,301 779.1,306.2 780,310C780.9,313.8 781.6,316.7 782.4,320C783.2,323.3 784.1,327 785,330C785.9,333 786.8,335.5 788,338C789.2,340.5 790.8,342.3 792,345C793.2,347.7 794,350.8 795,354C796,357.2 796.8,361.2 798,364C799.2,366.8 800.8,368.3 802,371C803.2,373.7 804,377.2 805,380C806,382.8 806.8,385.3 808,388C809.2,390.7 810.7,393.5 812,396C813.3,398.5 814.7,401 816,403C817.3,405 818.8,406.2 820,408C821.2,409.8 822,412 823,414C824,416 824.8,418.7 826,420C827.2,421.3 828.8,420.4 830,421.6C831.2,422.8 831.8,425.6 833,427C834.2,428.4 835.8,429.1 837,430C838.2,430.9 838.8,431.6 840,432.4C841.2,433.2 842.7,434.2 844,435C845.3,435.8 846.7,436.5 848,437C849.3,437.5 850.7,437.3 852,438C853.3,438.7 854.8,440.2 856,441C857.2,441.8 857.8,443.2 859,443C860.2,442.8 861.7,440.1 863,439.6C864.3,439.1 865.7,439.5 867,440C868.3,440.5 869.7,441.7 871,442.4C872.3,443.1 873.7,444.3 875,444.4C876.3,444.5 877.8,443.4 879,443C880.2,442.6 881,441.7 882,442C883,442.3 883.8,444.2 885,445C886.2,445.8 887.7,447.2 889,447C890.3,446.8 891.7,444.7 893,444C894.3,443.3 895.8,443.2 897,443C898.2,442.8 899,443.2 900,443C901,442.8 901.8,441.7 903,442C904.2,442.3 905.8,444.3 907,445C908.2,445.7 909,445.7 910,446C911,446.3 911.8,447.3 913,447C914.2,446.7 915.8,445.1 917,444.4C918.2,443.7 918.8,443.1 920,443C921.2,442.9 922.7,444 924,444C925.3,444 926.8,443.5 928,443C929.2,442.5 929.8,441 931,441C932.2,441 933.7,442.7 935,443C936.3,443.3 937.7,443.2 939,443C940.3,442.8 941.7,442.5 943,442C944.3,441.5 945.7,440.1 947,440C948.3,439.9 949.7,441.1 951,441.6C952.3,442.1 953.8,442.9 955,443C956.2,443.1 957,442.2 958,442.4C959,442.6 959.8,444.3 961,444.4C962.2,444.5 963.5,443.8 965,443C966.5,442.2 968.3,439.8 970,439.5C971.7,439.2 973.3,440.2 975,441C976.7,441.8 978.5,443.3 980,444C981.5,444.7 982.8,444.8 984,445C985.2,445.2 986,445.2 987,445C988,444.8 989,443.7 990,443.6C991,443.5 991.8,444.4 993,444.4C994.2,444.4 995.8,443.5 997,443.6C998.2,443.7 999,444.6 1000,445C1001,445.4 1002,445.8 1003,446C1004,446.2 1005,446.3 1006,446C1007,445.7 1008,444.7 1009,444C1010,443.3 1011,441.9 1012,441.6C1013,441.3 1013.9,442 1015,442.4C1016.1,442.8 1017.9,443.6 1018.7,443.8C1019.5,444 1019.5,443.8 1019.7,443.8"/>
<path class="cv" stroke="#ff00ff" d="M662.8,433.6C663,433.6 663.3,433.9 664,433.6C664.7,433.3 666,432 667,431.6C668,431.2 669,430.9 670,431C671,431.1 672,432.2 673,432.4C674,432.6 675,432 676,432C677,432 678,432.2 679,432.4C680,432.6 681,433 682,433C683,433 684,432.1 685,432.4C686,432.7 687,436.1 688,434.7C689,433.3 690.2,429.8 691,424C691.8,418.2 692.3,407.3 693,400C693.7,392.7 694.2,390 695,380C695.8,370 697.2,351.7 698,340C698.8,328.3 699.5,318.3 700,310C700.5,301.7 700.5,297.3 701,290C701.5,282.7 702.3,274.3 703,266C703.7,257.7 704.3,248.3 705,240C705.7,231.7 706.4,222.7 707,216C707.6,209.3 708.1,205.3 708.6,200C709.1,194.7 709.5,189 710,184C710.5,179 711,174.7 711.6,170C712.2,165.3 712.9,160.2 713.6,156C714.3,151.8 715.2,148.3 716,145C716.8,141.7 717.6,138.7 718.4,136C719.2,133.3 720.1,130.7 721,129C721.9,127.3 723,127.2 724,126C725,124.8 726,123.3 727,122C728,120.7 728.9,119 730,118.4C731.1,117.8 732.3,119.3 733.4,118.5C734.5,117.7 735.4,114.9 736.4,113.6C737.4,112.3 738.2,111.1 739.4,110.8C740.6,110.5 742.2,112 743.4,112C744.6,112 745.6,110.3 746.4,110.6C747.2,110.9 747.4,112.2 748,113.6C748.6,115 749.3,118.3 750,119C750.7,119.7 751.6,118.6 752.4,118C753.2,117.4 754.2,115.6 755,115.6C755.8,115.6 756.2,117 757,118C757.8,119 759,120.8 760,121.6C761,122.4 762,122.2 763,122.6C764,123 765,123.4 766,124C767,124.6 768.1,125.7 769,126C769.9,126.3 770.8,125.1 771.6,125.6C772.4,126.1 773.1,127.5 774,129C774.9,130.5 776.1,133.5 777,134.4C777.9,135.3 778.8,134.6 779.6,134.4C780.4,134.2 781.1,132.6 782,133C782.9,133.4 784,135.9 785,137C786,138.1 787,138.8 788,139.6C789,140.4 790,141.1 791,142C792,142.9 793,144.1 794,145C795,145.9 796,146.6 797,147.4C798,148.2 799.1,148.6 800,150C800.9,151.4 801.6,153.7 802.4,156C803.2,158.3 804.2,161.8 805,164C805.8,166.2 806.3,167.7 807,169C807.7,170.3 808.2,170.8 809,172C809.8,173.2 811,174.2 812,176C813,177.8 814,180.8 815,183C816,185.2 817,187.3 818,189C819,190.7 820.1,191.2 821,193C821.9,194.8 822.8,197.5 823.6,200C824.4,202.5 824.9,205.2 825.6,208C826.3,210.8 826.7,214.2 827.6,217C828.5,219.8 829.9,222.5 831,225C832.1,227.5 833.2,229.7 834,232C834.8,234.3 835.2,236.8 836,239C836.8,241.2 838.2,243 839,245C839.8,247 840.3,248.7 841,251C841.7,253.3 842.2,256.2 843,259C843.8,261.8 845,265.3 846,268C847,270.7 848,273.2 849,275C850,276.8 851,277 852,279C853,281 854,284.2 855,287C856,289.8 857,293.2 858,296C859,298.8 860,301.7 861,304C862,306.3 863,307.7 864,310C865,312.3 866,315.3 867,318C868,320.7 868.7,323.3 870,326C871.3,328.7 873.7,331.3 875,334C876.3,336.7 876.8,339.3 878,342C879.2,344.7 880.5,346.7 882,350C883.5,353.3 885.5,359.1 887,361.6C888.5,364.1 889.7,363.1 891,365C892.3,366.9 893.7,371 895,373C896.3,375 898,375.8 899,377C900,378.2 900.2,378.7 901,380C901.8,381.3 902.8,383.7 904,385C905.2,386.3 906.8,387 908,388C909.2,389 909.8,389.5 911,391C912.2,392.5 913.7,395.3 915,397C916.3,398.7 917.7,400 919,401C920.3,402 921.5,401.8 923,403C924.5,404.2 926.5,406.8 928,408C929.5,409.2 930.7,409.2 932,410C933.3,410.8 934.7,412.1 936,413C937.3,413.9 938.7,415.4 940,415.6C941.3,415.8 942.7,413.8 944,414.4C945.3,415 946.7,417.7 948,419C949.3,420.3 950.7,420.8 952,422C953.3,423.2 954.7,425.6 956,426C957.3,426.4 958.7,424.8 960,424.4C961.3,424 962.7,423.5 964,423.6C965.3,423.7 966.7,424.5 968,425C969.3,425.5 970.7,425.7 972,426.4C973.3,427.1 974.7,428.1 976,429C977.3,429.9 978.7,431 980,431.6C981.3,432.2 982.7,432.4 984,432.4C985.3,432.4 986.7,431.3 988,431.6C989.3,431.9 990.8,433.8 992,434.4C993.2,435 994,435.3 995,435C996,434.7 996.8,432.8 998,432.4C999.2,432 1000.7,432.3 1002,432.4C1003.3,432.5 1004.7,433.1 1006,433C1007.3,432.9 1008.8,431.6 1010,431.6C1011.2,431.6 1012,432.4 1013,433C1014,433.6 1014.9,434.3 1016,435C1017.1,435.7 1018.8,436.7 1019.4,437C1020,437.3 1019.7,437 1019.7,437"/>
</g>
<rect class="ax" x="662.8" y="41.8" width="356.9" height="414.8"/>
<line class="ax" x1="651.6" y1="41.8" x2="662.8" y2="41.8"/>
<text class="tick" text-anchor="end" transform="translate(645.2,49.4) scale(1,1.04)">20</text>
<line class="ax" x1="651.6" y1="230.1" x2="662.8" y2="230.1"/>
<text class="tick" text-anchor="end" transform="translate(645.2,238.3) scale(1,1.04)">10</text>
<line class="ax" x1="651.6" y1="418.5" x2="662.8" y2="418.5"/>
<text class="tick" text-anchor="end" transform="translate(645.2,427) scale(1,1.04)">0</text>
<line class="ax" x1="656.6" y1="136" x2="662.8" y2="136"/>
<line class="ax" x1="656.6" y1="324.3" x2="662.8" y2="324.3"/>
<line class="ax" x1="662.8" y1="456.6" x2="662.8" y2="467.4"/>
<text class="tick" text-anchor="middle" transform="translate(662.4,495.2) scale(1,1.04)">3,11</text>
<line class="ax" x1="781.8" y1="456.6" x2="781.8" y2="467.4"/>
<text class="tick" text-anchor="middle" transform="translate(781.4,495.2) scale(1,1.04)">3,12</text>
<line class="ax" x1="900.7" y1="456.6" x2="900.7" y2="467.4"/>
<text class="tick" text-anchor="middle" transform="translate(900.3,495.2) scale(1,1.04)">3,13</text>
<line class="ax" x1="1019.7" y1="456.6" x2="1019.7" y2="467.4"/>
<text class="tick" text-anchor="middle" transform="translate(1019.3,495.2) scale(1,1.04)">3,14</text>
<text class="title" text-anchor="middle" transform="translate(842.5,541.3) scale(1,1.04)">Time (µs)</text>
<text class="title" text-anchor="middle" transform="translate(591.4,239.4) rotate(-90) scale(1,1.04)">Detected voltage (mV)</text>
<text class="letter" transform="translate(560.1,32.8) scale(1,1.0)">B</text>
<line x1="892.5" y1="72.3" x2="958.2" y2="72.3" stroke="#000000" stroke-width="2.1" stroke-linecap="round"/>
<text class="leg" x="967.8" y="83.2">u</text><text class="sub" x="983.9" y="93.1">0</text><text class="sup" transform="translate(992.2,65.5) scale(1.4,1)">ℰ</text>
<line x1="892.5" y1="131.3" x2="958.2" y2="131.3" stroke="#ff0000" stroke-width="2.1" stroke-linecap="round"/>
<text class="leg" x="967.8" y="142.2">u</text><text class="sub" x="983.9" y="152.2">1</text><text class="sup" transform="translate(992.2,124.5) scale(1.4,1)">ℰ</text>
<line x1="892.5" y1="190.4" x2="958.2" y2="190.4" stroke="#0000ff" stroke-width="2.1" stroke-linecap="round"/>
<text class="leg" x="967.8" y="201.3">u</text><text class="sub" x="983.9" y="211.2">2</text><text class="sup" transform="translate(992.2,183.6) scale(1.4,1)">ℰ</text>
<line x1="892.5" y1="249.4" x2="958.2" y2="249.4" stroke="#ff00ff" stroke-width="2.1" stroke-linecap="round"/>
<text class="leg" x="967.8" y="260.3">u</text><text class="sub" x="983.9" y="270.2">3</text><text class="sup" transform="translate(992.2,242.6) scale(1.4,1)">ℰ</text>
</g>
<g id="panel-C">
<clipPath id="clipC"><rect x="1215" y="41.8" width="358.4" height="414.8"/></clipPath>
<g clip-path="url(#clipC)">
<path class="cv" stroke="#000000" d="M1215,427C1215.2,427 1215.2,427.1 1216,427C1216.8,426.9 1218.7,426.6 1220,426.4C1221.3,426.2 1222.8,426.1 1224,426C1225.2,425.9 1226,425.4 1227,425.6C1228,425.8 1229.1,426.7 1230,427C1230.9,427.3 1231.7,427.9 1232.4,427.6C1233.1,427.3 1233.8,427.3 1234.4,425C1235,422.7 1235.5,418.5 1236,414C1236.5,409.5 1237,403.7 1237.6,398C1238.1,392.3 1238.7,387 1239.3,380C1239.9,373 1240.5,364.3 1241,356C1241.5,347.7 1241.9,337.7 1242.4,330C1242.9,322.3 1243.6,316 1244,310C1244.4,304 1244.5,299.3 1245,294C1245.5,288.7 1246.3,283 1247,278C1247.7,273 1248.3,268.2 1249,264C1249.7,259.8 1250.3,255.8 1251,253C1251.7,250.2 1252.2,248.2 1253,247C1253.8,245.8 1254.8,245.9 1255.6,245.6C1256.4,245.3 1257.2,244.8 1258,245C1258.8,245.2 1259.6,245.8 1260.4,247C1261.2,248.2 1262.1,250.7 1263,252C1263.9,253.3 1264.8,253.8 1265.6,255C1266.4,256.2 1267.2,256.5 1268,259C1268.8,261.5 1269.6,266.2 1270.4,270C1271.2,273.8 1272.1,278 1273,282C1273.9,286 1275,290 1276,294C1277,298 1278.3,303.3 1279,306C1279.7,308.7 1279.5,306.7 1280,310C1280.5,313.3 1281.2,321 1282,326C1282.8,331 1284,335 1285,340C1286,345 1287,351 1288,356C1289,361 1289.8,366 1291,370C1292.2,374 1293.7,377 1295,380C1296.3,383 1297.8,385.7 1299,388C1300.2,390.3 1300.8,391.8 1302,394C1303.2,396.2 1304.7,398.8 1306,401C1307.3,403.2 1308.7,405.2 1310,407C1311.3,408.8 1312.8,410.9 1314,412C1315.2,413.1 1315.8,412.6 1317,413.3C1318.2,414 1319.8,415.1 1321,416C1322.2,416.9 1322.8,418 1324,418.6C1325.2,419.2 1326.7,419.2 1328,419.6C1329.3,420 1330.7,420.6 1332,421C1333.3,421.4 1334.7,421.9 1336,422C1337.3,422.1 1338.8,421.4 1340,421.6C1341.2,421.8 1341.8,422.9 1343,423C1344.2,423.1 1345.8,422.7 1347,422.4C1348.2,422.1 1349,420.9 1350,421C1351,421.1 1352,422.8 1353,423C1354,423.2 1355,422.2 1356,422.4C1357,422.6 1358,423.7 1359,424C1360,424.3 1361,424.1 1362,424.4C1363,424.7 1364,425.7 1365,425.6C1366,425.5 1367,424.1 1368,424C1369,423.9 1370,424.6 1371,425C1372,425.4 1373,426 1374,426.4C1375,426.8 1376,427.6 1377,427.6C1378,427.6 1379,426.4 1380,426.4C1381,426.4 1382,427.5 1383,427.6C1384,427.7 1385,427.4 1386,427C1387,426.6 1388,425.2 1389,425C1390,424.8 1390.8,425.4 1392,425.6C1393.2,425.8 1394.7,426.2 1396,426.4C1397.3,426.6 1398.7,427 1400,427C1401.3,427 1402.7,426.3 1404,426.4C1405.3,426.5 1406.7,427.7 1408,427.6C1409.3,427.5 1410.7,426.1 1412,426C1413.3,425.9 1414.7,426.9 1416,427C1417.3,427.1 1418.7,426.5 1420,426.4C1421.3,426.3 1422.7,426.2 1424,426.4C1425.3,426.6 1426.7,427.4 1428,427.6C1429.3,427.8 1430.7,427.7 1432,427.6C1433.3,427.5 1434.7,427 1436,427C1437.3,427 1438.7,427.4 1440,427.6C1441.3,427.8 1442.7,428.1 1444,428C1445.3,427.9 1446.7,427.2 1448,427C1449.3,426.8 1450.7,427.2 1452,427C1453.3,426.8 1454.8,426.4 1456,426C1457.2,425.6 1458,424.2 1459,424.4C1460,424.6 1461,426.1 1462,427C1463,427.9 1464,429.4 1465,429.6C1466,429.8 1466.8,428.4 1468,428C1469.2,427.6 1470.7,427.3 1472,427C1473.3,426.7 1474.7,426.3 1476,426.4C1477.3,426.5 1478.7,427.5 1480,427.6C1481.3,427.7 1482.7,427 1484,427C1485.3,427 1486.7,427.6 1488,427.6C1489.3,427.6 1490.7,426.8 1492,427C1493.3,427.2 1494.8,428.8 1496,429C1497.2,429.2 1498.1,428.6 1499,428C1499.9,427.4 1500.8,426.3 1501.6,425.6C1502.4,424.9 1502.9,423.3 1503.6,423.6C1504.3,423.9 1505.1,426.7 1506,427.6C1506.9,428.5 1508,429 1509,429C1510,429 1510.8,428 1512,427.6C1513.2,427.2 1514.7,426.5 1516,426.4C1517.3,426.3 1518.7,427 1520,427C1521.3,427 1522.5,426.5 1524,426.4C1525.5,426.3 1527.5,425.9 1529,426.2C1530.5,426.5 1531.8,427.9 1533,428C1534.2,428.1 1534.8,427.3 1536,427C1537.2,426.7 1538.7,426.6 1540,426.4C1541.3,426.2 1542.7,425.8 1544,425.6C1545.3,425.4 1546.7,425 1548,425C1549.3,425 1550.8,425.4 1552,425.6C1553.2,425.8 1554,425.9 1555,426.4C1556,426.9 1557,428 1558,428.4C1559,428.8 1560,429.2 1561,429C1562,428.8 1562.8,427.8 1564,427C1565.2,426.2 1566.8,424.3 1568,424C1569.2,423.7 1570.3,424.5 1571,425C1571.7,425.5 1572.2,426.7 1572.4,427"/>
<path class="cv" stroke="#ff0000" d="M1215,432.4C1215.2,432.4 1215.2,432.3 1216,432.4C1216.8,432.5 1218.7,433 1220,433C1221.3,433 1222.7,432.4 1224,432.4C1225.3,432.4 1226.7,433 1228,433C1229.3,433 1230.7,432.4 1232,432.4C1233.3,432.4 1234.7,432.7 1236,433C1237.3,433.3 1238.7,434.1 1240,434C1241.3,433.9 1242.7,432.6 1244,432.4C1245.3,432.2 1246.7,433 1248,433C1249.3,433 1250.7,432.7 1252,432.4C1253.3,432.1 1254.7,431 1256,431C1257.3,431 1258.7,432.1 1260,432.4C1261.3,432.7 1262.7,432.9 1264,433C1265.3,433.1 1266.7,433.2 1268,433C1269.3,432.8 1270.7,431.8 1272,432C1273.3,432.2 1274.7,433.8 1276,434C1277.3,434.2 1278.7,433.1 1280,433C1281.3,432.9 1282.7,433.6 1284,433.6C1285.3,433.6 1287.1,433.4 1288,433C1288.9,432.6 1289.1,433.8 1289.6,431C1290.1,428.2 1290.5,421.8 1291,416C1291.5,410.2 1291.9,402 1292.4,396C1292.9,390 1293.4,385.7 1294,380C1294.6,374.3 1295.3,369.7 1296,362C1296.7,354.3 1297.3,342.7 1298,334C1298.7,325.3 1299.6,316.3 1300,310C1300.4,303.7 1300,301 1300.4,296C1300.8,291 1301.6,285.3 1302.4,280C1303.2,274.7 1304.1,269 1305,264C1305.9,259 1306.8,253.3 1308,250C1309.2,246.7 1310.7,244.4 1312,243.9C1313.3,243.4 1314.8,245.5 1316,247C1317.2,248.5 1318.1,250.5 1319,253C1319.9,255.5 1320.8,259.3 1321.6,262C1322.4,264.7 1323.2,266.8 1324,269C1324.8,271.2 1325.6,271.8 1326.4,275C1327.2,278.2 1328.1,283.5 1329,288C1329.9,292.5 1330.8,298.3 1331.6,302C1332.4,305.7 1332.7,306.7 1333.6,310C1334.5,313.3 1336,317.7 1337,322C1338,326.3 1338.8,331.3 1339.6,336C1340.4,340.7 1341.1,345.7 1342,350C1342.9,354.3 1344,358.3 1345,362C1346,365.7 1347.1,369 1348,372C1348.9,375 1349.5,377.5 1350.5,380C1351.5,382.5 1352.8,384.5 1354,387C1355.2,389.5 1356.7,392.5 1358,395C1359.3,397.5 1360.7,400 1362,402C1363.3,404 1364.7,405.5 1366,407C1367.3,408.5 1368.7,409.8 1370,411C1371.3,412.2 1372.7,413.4 1374,414.4C1375.3,415.4 1376.7,416.2 1378,417C1379.3,417.8 1380.7,418.1 1382,419C1383.3,419.9 1384.7,421.5 1386,422.4C1387.3,423.3 1388.7,423.8 1390,424.4C1391.3,425 1392.7,425.6 1394,426C1395.3,426.4 1396.7,426.6 1398,427C1399.3,427.4 1400.7,428.2 1402,428.4C1403.3,428.6 1404.7,427.9 1406,428C1407.3,428.1 1408.7,428.7 1410,429C1411.3,429.3 1412.7,429.8 1414,430C1415.3,430.2 1416.7,430.2 1418,430.4C1419.3,430.6 1420.7,430.7 1422,431C1423.3,431.3 1424.7,432.2 1426,432.4C1427.3,432.6 1428.7,431.9 1430,432C1431.3,432.1 1432.7,432.9 1434,433C1435.3,433.1 1436.7,432.6 1438,432.4C1439.3,432.2 1440.7,431.7 1442,431.6C1443.3,431.5 1444.7,431.7 1446,432C1447.3,432.3 1448.7,433.5 1450,433.6C1451.3,433.7 1452.7,432.4 1454,432.4C1455.3,432.4 1456.7,433.2 1458,433.6C1459.3,434 1460.7,434.6 1462,435C1463.3,435.4 1464.7,436 1466,436C1467.3,436 1468.7,435.2 1470,435C1471.3,434.8 1472.7,434.8 1474,435C1475.3,435.2 1476.7,436.1 1478,436C1479.3,435.9 1480.7,434.7 1482,434.4C1483.3,434.1 1484.7,433.9 1486,434C1487.3,434.1 1488.7,435.2 1490,435C1491.3,434.8 1492.7,433.4 1494,433C1495.3,432.6 1496.7,432.2 1498,432.4C1499.3,432.6 1500.7,433.5 1502,434C1503.3,434.5 1504.7,435.6 1506,435.6C1507.3,435.6 1508.7,434.4 1510,434C1511.3,433.6 1512.7,433.3 1514,433C1515.3,432.7 1516.7,432.4 1518,432.4C1519.3,432.4 1520.7,432.8 1522,433C1523.3,433.2 1524.7,433.4 1526,433.6C1527.3,433.8 1528.8,434.6 1530,434.4C1531.2,434.2 1532,432.9 1533,432.4C1534,431.9 1535,431.4 1536,431.6C1537,431.8 1538,432.9 1539,433.6C1540,434.3 1541,435.5 1542,436C1543,436.5 1544,436.7 1545,436.4C1546,436.1 1547,434.6 1548,434C1549,433.4 1550,433 1551,433C1552,433 1553,433.7 1554,434C1555,434.3 1556,435.1 1557,435C1558,434.9 1559,433.9 1560,433.6C1561,433.3 1562,433 1563,433C1564,433 1565,433.3 1566,433.6C1567,433.9 1567.9,434.7 1569,435C1570.1,435.3 1571.8,435.5 1572.4,435.6"/>
<path class="cv" stroke="#0000ff" d="M1215,436C1215.2,436 1215.3,435.7 1216,436C1216.7,436.3 1218,437.7 1219,438C1220,438.3 1221,438.3 1222,438C1223,437.7 1224,436.3 1225,436C1226,435.7 1227,435.9 1228,436.4C1229,436.9 1230,438.5 1231,439C1232,439.5 1233,439.9 1234,439.6C1235,439.3 1236,437.4 1237,437C1238,436.6 1239,437.1 1240,437C1241,436.9 1242,436.2 1243,436.4C1244,436.6 1244.8,437.5 1246,438C1247.2,438.5 1248.8,439.4 1250,439.6C1251.2,439.8 1252,439.3 1253,439C1254,438.7 1254.8,438 1256,438C1257.2,438 1258.7,438.7 1260,439C1261.3,439.3 1262.8,440 1264,440C1265.2,440 1266,439.3 1267,439C1268,438.7 1269,437.9 1270,438C1271,438.1 1271.8,439.4 1273,439.6C1274.2,439.8 1275.8,439.3 1277,439C1278.2,438.7 1278.8,438.2 1280,438C1281.2,437.8 1282.8,438.2 1284,438C1285.2,437.8 1286.2,436.8 1287,437C1287.8,437.2 1288.3,438.1 1289,439C1289.7,439.9 1290.3,442.6 1291,442.4C1291.7,442.2 1292.3,441.7 1293,438C1293.7,434.3 1294.4,426.3 1295,420C1295.6,413.7 1295.9,406.7 1296.4,400C1296.9,393.3 1297.6,385 1298,380C1298.4,375 1298.5,376.7 1299,370C1299.5,363.3 1300.3,350 1301,340C1301.7,330 1302.3,318.3 1303,310C1303.7,301.7 1304.3,297.3 1305,290C1305.7,282.7 1306.2,274.3 1307,266C1307.8,257.7 1308.8,247.7 1309.6,240C1310.4,232.3 1311.3,225.7 1312,220C1312.7,214.3 1313.5,209.3 1314,206C1314.5,202.7 1314.5,202 1315,200C1315.5,198 1316.3,196.3 1317,194C1317.7,191.7 1318.2,188.4 1319,186C1319.8,183.6 1320.8,180.8 1321.6,179.6C1322.4,178.4 1323.2,179.3 1324,179C1324.8,178.7 1325.7,178.1 1326.4,177.6C1327.1,177.1 1327.5,175.9 1328.4,176C1329.3,176.1 1330.9,178 1332,178.2C1333.1,178.4 1334,176.9 1335,177C1336,177.1 1337,178.3 1338,179C1339,179.7 1340.1,180.2 1341,181C1341.9,181.8 1342.8,182.5 1343.6,184C1344.4,185.5 1345.3,188 1346,190C1346.7,192 1347.3,194.3 1348,196C1348.7,197.7 1349.2,198.7 1350,200C1350.8,201.3 1352,202.2 1353,204C1354,205.8 1355,208.5 1356,211C1357,213.5 1358,216.2 1359,219C1360,221.8 1360.8,225.2 1362,228C1363.2,230.8 1364.8,233 1366,236C1367.2,239 1368.1,242.5 1369,246C1369.9,249.5 1370.8,253.3 1371.6,257C1372.4,260.7 1373.1,264.7 1374,268C1374.9,271.3 1375.9,274.2 1377,277C1378.1,279.8 1379.5,282.2 1380.4,285C1381.3,287.8 1381.7,290.8 1382.4,294C1383.1,297.2 1383.7,301.3 1384.4,304C1385.1,306.7 1385.6,307.3 1386.4,310C1387.2,312.7 1388.1,316.7 1389,320C1389.9,323.3 1390.8,326.3 1392,330C1393.2,333.7 1394.7,338.2 1396,342C1397.3,345.8 1398.7,349.7 1400,353C1401.3,356.3 1402.7,359 1404,362C1405.3,365 1407,368 1408,371C1409,374 1409.2,377.3 1410,380C1410.8,382.7 1411.8,384.8 1413,387C1414.2,389.2 1415.8,390.8 1417,393C1418.2,395.2 1419,398 1420,400C1421,402 1421.8,403.3 1423,405C1424.2,406.7 1425.7,408.3 1427,410C1428.3,411.7 1429.8,413.2 1431,415C1432.2,416.8 1432.8,419.3 1434,421C1435.2,422.7 1436.7,423.9 1438,425C1439.3,426.1 1440.7,426.9 1442,427.6C1443.3,428.3 1444.8,428.2 1446,429C1447.2,429.8 1447.8,431.5 1449,432.4C1450.2,433.3 1451.7,433.6 1453,434.4C1454.3,435.2 1455.7,436.4 1457,437C1458.3,437.6 1459.7,437.2 1461,438C1462.3,438.8 1463.8,440.9 1465,441.6C1466.2,442.3 1466.8,442.4 1468,442.4C1469.2,442.4 1470.7,441.8 1472,441.6C1473.3,441.4 1474.8,440.8 1476,441C1477.2,441.2 1478,442.7 1479,443C1480,443.3 1481,442.8 1482,443C1483,443.2 1483.8,444.2 1485,444.4C1486.2,444.6 1487.8,444.5 1489,444.4C1490.2,444.3 1491,444 1492,443.6C1493,443.2 1494,441.9 1495,442C1496,442.1 1497,443.5 1498,444C1499,444.5 1499.8,444.9 1501,445C1502.2,445.1 1503.7,444.6 1505,444.4C1506.3,444.2 1507.7,443.6 1509,443.6C1510.3,443.6 1511.8,444.2 1513,444.4C1514.2,444.6 1515,445 1516,445C1517,445 1518,444.7 1519,444.4C1520,444.1 1520.8,443 1522,443C1523.2,443 1524.7,444 1526,444.4C1527.3,444.8 1529,445.2 1530,445.6C1531,446 1531.2,447.3 1532,447C1532.8,446.7 1534,444.7 1535,444C1536,443.3 1537,442.8 1538,443C1539,443.2 1540,444.8 1541,445C1542,445.2 1543,444.3 1544,444C1545,443.7 1546,443.2 1547,443C1548,442.8 1549,443.2 1550,443C1551,442.8 1552,441.7 1553,441.6C1554,441.5 1555,442.3 1556,442.4C1557,442.5 1558,441.8 1559,442C1560,442.2 1561,443.3 1562,443.6C1563,443.9 1564,444 1565,444C1566,444 1566.8,443.9 1568,443.6C1569.2,443.3 1571.7,442.6 1572.4,442.4"/>
<path class="cv" stroke="#ff00ff" d="M1215,433C1215.2,433 1215.3,433.3 1216,433C1216.7,432.7 1218,431.5 1219,431C1220,430.5 1221,429.8 1222,430C1223,430.2 1224,431.5 1225,432C1226,432.5 1227,433.1 1228,433C1229,432.9 1230,431.7 1231,431.6C1232,431.5 1232.8,432.2 1234,432.4C1235.2,432.6 1236.7,432.9 1238,433C1239.3,433.1 1240.7,432.8 1242,433C1243.3,433.2 1244.7,434.1 1246,434C1247.3,433.9 1248.8,432.8 1250,432.4C1251.2,432 1251.8,431.4 1253,431.6C1254.2,431.8 1255.7,433.4 1257,433.6C1258.3,433.8 1259.7,433 1261,433C1262.3,433 1263.7,433.7 1265,433.6C1266.3,433.5 1267.7,432.2 1269,432.4C1270.3,432.6 1271.8,434.4 1273,435C1274.2,435.6 1275,436.2 1276,436C1277,435.8 1278,433.9 1279,433.6C1280,433.3 1281,434.2 1282,434C1283,433.8 1284,432.4 1285,432.4C1286,432.4 1287,433.6 1288,434C1289,434.4 1290,434.7 1291,435C1292,435.3 1293.2,436.2 1294,436C1294.8,435.8 1295.4,436.7 1296,434C1296.6,431.3 1297,425.7 1297.6,420C1298.2,414.3 1298.9,406.7 1299.6,400C1300.3,393.3 1301.1,385 1301.6,380C1302.1,375 1301.9,376.7 1302.4,370C1302.9,363.3 1303.7,350 1304.4,340C1305.1,330 1305.7,319.3 1306.4,310C1307.1,300.7 1307.6,293.7 1308.4,284C1309.2,274.3 1310.1,261.7 1311,252C1311.9,242.3 1312.8,233.7 1313.6,226C1314.4,218.3 1315.4,210.3 1316,206C1316.6,201.7 1316.8,203.7 1317,200C1317.2,196.3 1316.7,189.3 1317,184C1317.4,178.7 1318.3,172.5 1319,168C1319.7,163.5 1320.2,160 1321,157C1321.8,154 1322.7,152.5 1323.6,150C1324.5,147.5 1325.5,144.5 1326.4,142C1327.3,139.5 1328.1,137.1 1329,135C1329.9,132.9 1331,130.9 1332,129.6C1333,128.3 1334.1,127.9 1335,127C1335.9,126.1 1336.8,125.2 1337.6,124C1338.4,122.8 1338.7,120.8 1339.6,119.6C1340.5,118.4 1341.9,117.1 1343,117C1344.1,116.9 1345.4,118.6 1346.4,119C1347.4,119.4 1348.1,119.3 1349,119.6C1349.9,119.9 1351,120.7 1352,121C1353,121.3 1354,121.5 1355,121.6C1356,121.7 1357.1,121.7 1358,121.4C1358.9,121.1 1359.7,120.2 1360.4,119.6C1361.1,119 1361.6,117.9 1362.4,117.6C1363.2,117.3 1364.1,117.4 1365,118C1365.9,118.6 1367.2,119.8 1368,121C1368.8,122.2 1369.3,123.2 1370,125C1370.7,126.8 1371.6,130.9 1372.4,131.6C1373.2,132.3 1374.1,129.7 1375,129C1375.9,128.3 1376.8,127.3 1377.6,127.6C1378.4,127.9 1379.1,129.5 1380,131C1380.9,132.5 1382,134.7 1383,136.4C1384,138.1 1385,139.6 1386,141C1387,142.4 1388,143.6 1389,145C1390,146.4 1391,148.4 1392,149.6C1393,150.8 1394,151.5 1395,152.4C1396,153.3 1397,153.9 1398,155C1399,156.1 1400,157.9 1401,159C1402,160.1 1403,160.3 1404,161.6C1405,162.9 1406,165.1 1407,167C1408,168.9 1409,170.8 1410,173C1411,175.2 1412,178 1413,180C1414,182 1415,183 1416,185C1417,187 1418,189.5 1419,192C1420,194.5 1421,198 1422,200C1423,202 1424,202.2 1425,204C1426,205.8 1427,208 1428,211C1429,214 1430.1,218.2 1431,222C1431.9,225.8 1432.6,231.3 1433.6,234C1434.6,236.7 1435.9,236.5 1437,238C1438.1,239.5 1439,240.7 1440,243C1441,245.3 1442,248.5 1443,252C1444,255.5 1445,260.3 1446,264C1447,267.7 1448,271.3 1449,274C1450,276.7 1450.8,278.2 1452,280C1453.2,281.8 1454.8,283 1456,285C1457.2,287 1458,289.2 1459,292C1460,294.8 1461,299 1462,302C1463,305 1463.8,307 1465,310C1466.2,313 1467.7,316.8 1469,320C1470.3,323.2 1471.5,326 1473,329C1474.5,332 1476.3,335 1478,338C1479.7,341 1481.5,344.5 1483,347C1484.5,349.5 1485.8,350.7 1487,353C1488.2,355.3 1489,358.7 1490,361C1491,363.3 1491.8,365.3 1493,367C1494.2,368.7 1495.7,369.5 1497,371C1498.3,372.5 1500,374.5 1501,376C1502,377.5 1502,378.5 1503,380C1504,381.5 1505.7,383.7 1507,385C1508.3,386.3 1509.7,386.8 1511,388C1512.3,389.2 1513.7,390 1515,392C1516.3,394 1517.7,397.7 1519,400C1520.3,402.3 1521.7,404.2 1523,406C1524.3,407.8 1525.8,409.8 1527,411C1528.2,412.2 1529,412.1 1530,413C1531,413.9 1532,415.4 1533,416.4C1534,417.4 1534.8,418.2 1536,419C1537.2,419.8 1538.7,420.4 1540,421C1541.3,421.6 1542.7,422 1544,422.4C1545.3,422.8 1546.7,423.3 1548,423.6C1549.3,423.9 1550.7,423.7 1552,424.4C1553.3,425.1 1554.7,426.6 1556,427.6C1557.3,428.6 1558.7,429.6 1560,430.4C1561.3,431.2 1562.7,431.9 1564,432.4C1565.3,432.9 1566.6,433.2 1568,433.6C1569.4,434 1571.7,434.8 1572.4,435"/>
</g>
<rect class="ax" x="1215" y="41.8" width="357.2" height="414.8"/>
<line class="ax" x1="1203.8" y1="41.8" x2="1215" y2="41.8"/>
<text class="tick" text-anchor="end" transform="translate(1197.4,49.4) scale(1,1.04)">20</text>
<line class="ax" x1="1203.8" y1="230.1" x2="1215" y2="230.1"/>
<text class="tick" text-anchor="end" transform="translate(1197.4,238.3) scale(1,1.04)">10</text>
<line class="ax" x1="1203.8" y1="418.5" x2="1215" y2="418.5"/>
<text class="tick" text-anchor="end" transform="translate(1197.4,427) scale(1,1.04)">0</text>
<line class="ax" x1="1208.8" y1="136" x2="1215" y2="136"/>
<line class="ax" x1="1208.8" y1="324.3" x2="1215" y2="324.3"/>
<line class="ax" x1="1215" y1="456.6" x2="1215" y2="467.4"/>
<text class="tick" text-anchor="middle" transform="translate(1214.6,495.2) scale(1,1.04)">3,35</text>
<line class="ax" x1="1334.1" y1="456.6" x2="1334.1" y2="467.4"/>
<text class="tick" text-anchor="middle" transform="translate(1333.7,495.2) scale(1,1.04)">3,36</text>
<line class="ax" x1="1453.1" y1="456.6" x2="1453.1" y2="467.4"/>
<text class="tick" text-anchor="middle" transform="translate(1452.7,495.2) scale(1,1.04)">3,37</text>
<line class="ax" x1="1572.2" y1="456.6" x2="1572.2" y2="467.4"/>
<text class="tick" text-anchor="middle" transform="translate(1571.8,495.2) scale(1,1.04)">3,38</text>
<text class="title" text-anchor="middle" transform="translate(1394.8,541.3) scale(1,1.04)">Time (µs)</text>
<text class="title" text-anchor="middle" transform="translate(1150.4,241.6) rotate(-90) scale(1,1.04)">Detected voltage (mV)</text>
<text class="letter" transform="translate(1114.8,32.8) scale(1,1.0)">C</text>
<line x1="1449.3" y1="68" x2="1515" y2="68" stroke="#000000" stroke-width="2.1" stroke-linecap="round"/>
<text class="leg" x="1524.6" y="78.9">u</text><text class="sub" x="1540.7" y="88.8">0</text><text class="sup" transform="translate(1549,61.2) scale(1.4,1)">ℰ</text>
<line x1="1449.3" y1="127" x2="1515" y2="127" stroke="#ff0000" stroke-width="2.1" stroke-linecap="round"/>
<text class="leg" x="1524.6" y="137.9">u</text><text class="sub" x="1540.7" y="147.8">1</text><text class="sup" transform="translate(1549,120.2) scale(1.4,1)">ℰ</text>
<line x1="1449.3" y1="186.1" x2="1515" y2="186.1" stroke="#0000ff" stroke-width="2.1" stroke-linecap="round"/>
<text class="leg" x="1524.6" y="197">u</text><text class="sub" x="1540.7" y="206.9">2</text><text class="sup" transform="translate(1549,179.3) scale(1.4,1)">ℰ</text>
<line x1="1449.3" y1="245.1" x2="1515" y2="245.1" stroke="#ff00ff" stroke-width="2.1" stroke-linecap="round"/>
<text class="leg" x="1524.6" y="256">u</text><text class="sub" x="1540.7" y="265.9">3</text><text class="sup" transform="translate(1549,238.3) scale(1.4,1)">ℰ</text>
</g>
</svg>
</body>
</html>
